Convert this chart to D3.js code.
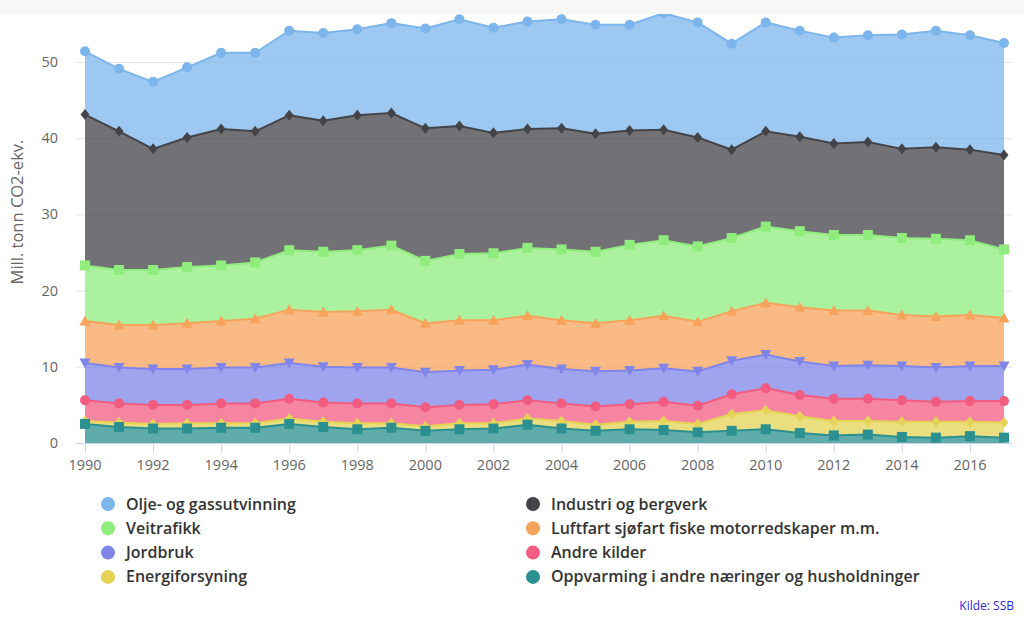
<!DOCTYPE html>
<html><head><meta charset="utf-8">
<script src="https://cdn.jsdelivr.net/npm/d3@7"></script>
<style>
body{margin:0;background:#fff;}
svg{display:block;font-family:"Open Sans",sans-serif;}
</style></head>
<body><div id="chart"></div>
<script>
const years = d3.range(1990, 2018);
const tickYears = [1990,1992,1994,1996,1998,2000,2002,2004,2006,2008,2010,2012,2014,2016];
const yTicks = [0,10,20,30,40,50];

// series values (Mill. tonn CO2-ekv.), listed top of stack first
const olje = [8.3,8.2,8.8,9.2,10.0,10.3,11.1,11.5,11.3,11.8,13.1,14.0,13.8,14.1,14.3,14.3,13.9,15.3,15.1,13.9,14.3,13.9,13.9,14.0,15.0,15.3,15.0,14.7];
const industri = [19.8,18.2,15.9,17.0,17.9,17.2,17.7,17.2,17.7,17.4,17.4,16.8,15.8,15.6,15.9,15.5,15.0,14.5,14.3,11.6,12.5,12.4,12.0,12.2,11.7,12.0,11.9,12.4];
const veitrafikk = [7.3,7.2,7.2,7.4,7.3,7.4,7.8,7.9,8.0,8.4,8.2,8.7,8.8,8.9,9.3,9.4,9.9,9.9,9.9,9.6,10.0,10.0,9.9,9.9,10.1,10.2,9.8,9.0];
const luftfart = [5.5,5.6,5.8,6.0,6.1,6.4,7.0,7.2,7.4,7.6,6.4,6.6,6.5,6.4,6.4,6.3,6.6,6.9,6.5,6.5,6.8,7.1,7.3,7.2,6.7,6.7,6.7,6.3];
const jordbruk = [4.9,4.7,4.7,4.7,4.7,4.7,4.7,4.7,4.7,4.7,4.6,4.5,4.5,4.7,4.5,4.6,4.4,4.4,4.5,4.4,4.4,4.4,4.3,4.4,4.5,4.5,4.6,4.6];
const andre = [2.7,2.5,2.5,2.4,2.6,2.6,2.6,2.5,2.6,2.6,2.5,2.4,2.5,2.4,2.3,2.4,2.3,2.5,2.4,2.6,2.9,2.8,2.9,2.9,2.8,2.6,2.7,2.8];
const energi = [0.4,0.6,0.6,0.7,0.6,0.6,0.7,0.7,0.8,0.6,0.6,0.8,0.7,0.8,1.0,0.8,1.0,1.2,1.1,2.2,2.5,2.2,1.9,1.8,2.0,2.1,1.9,2.0];
const oppvarming = [2.5,2.1,1.9,1.9,2.0,2.0,2.5,2.1,1.8,2.0,1.6,1.8,1.9,2.4,1.9,1.6,1.8,1.7,1.4,1.6,1.8,1.3,1.0,1.1,0.8,0.7,0.9,0.7];

const seriesNames = ["Olje- og gassutvinning","Industri og bergverk","Veitrafikk","Luftfart sjøfart fiske motorredskaper m.m.","Jordbruk","Andre kilder","Energiforsyning","Oppvarming i andre næringer og husholdninger"];
const seriesValues = [olje, industri, veitrafikk, luftfart, jordbruk, andre, energi, oppvarming];
const colors = ["#7cb5ec","#434348","#90ed7d","#f7a35c","#8085e9","#f15c80","#e4d354","#2b908f"];
const symbolKinds = ["circle","diamond","square","triangle","tdown","circle","diamond","square"];

const W = 1024, H = 624;
const svg = d3.select("#chart").append("svg").attr("width", W).attr("height", H);
svg.append("rect").attr("x",0).attr("y",0).attr("width",W).attr("height",14).attr("fill","#f7f7f7");

const plot = {left:76, right:1012, top:14, bottom:443};
const x = d3.scaleLinear().domain([1990,2017]).range([85,1004]);
const y = d3.scaleLinear().domain([0,50]).range([443,62]);

// gridlines
svg.append("g").selectAll("line").data(yTicks).join("line")
  .attr("x1",plot.left).attr("x2",plot.right)
  .attr("y1",d=>y(d)+0.5).attr("y2",d=>y(d)+0.5)
  .attr("stroke","#e6e6e6").attr("stroke-width",1);

// stack
const table = years.map((yr,i)=>{const o={year:yr}; seriesNames.forEach((n,k)=>o[n]=seriesValues[k][i]); return o;});
const stack = d3.stack().keys(seriesNames.slice().reverse());
const layers = stack(table);
const layerByName = {}; layers.forEach(l=>layerByName[l.key]=l);

svg.append("clipPath").attr("id","clip").append("rect")
  .attr("x",plot.left).attr("y",plot.top).attr("width",plot.right-plot.left).attr("height",plot.bottom-plot.top+8);

const g = svg.append("g").attr("clip-path","url(#clip)");
const area = d3.area().x(d=>x(d.data.year)).y0(d=>y(d[0])).y1(d=>y(d[1]));
const line = d3.line().x(d=>x(d.data.year)).y(d=>y(d[1]));

function markerPath(kind){
  const p = d3.path();
  if(kind==="circle"){ p.arc(0,0,5,0,2*Math.PI); }
  else if(kind==="diamond"){ p.moveTo(0,-5.5); p.lineTo(4.5,0); p.lineTo(0,5.5); p.lineTo(-4.5,0); p.closePath(); }
  else if(kind==="square"){ p.rect(-5,-5,10,10); }
  else if(kind==="triangle"){ p.moveTo(0,-5.5); p.lineTo(5.5,4.5); p.lineTo(-5.5,4.5); p.closePath(); }
  else { p.moveTo(-5.5,-4.5); p.lineTo(5.5,-4.5); p.lineTo(0,5.5); p.closePath(); }
  return p.toString();
}

seriesNames.forEach((name,k)=>{
  g.append("path").datum(layerByName[name]).attr("d",area).attr("fill",colors[k]).attr("fill-opacity",0.75);
});
seriesNames.forEach((name,k)=>{
  const l = layerByName[name];
  const sg = g.append("g");
  sg.append("path").datum(l).attr("d",line).attr("fill","none").attr("stroke",colors[k]).attr("stroke-width",2);
  const mp = markerPath(symbolKinds[k]);
  sg.selectAll("path.m").data(l).join("path").attr("class","m")
    .attr("transform",d=>`translate(${x(d.data.year)},${y(d[1])})`)
    .attr("d",mp).attr("fill",colors[k]);
});

// x axis
svg.append("line").attr("x1",plot.left).attr("x2",plot.right).attr("y1",443.5).attr("y2",443.5).attr("stroke","#ccd6eb");
svg.append("g").selectAll("line").data(tickYears).join("line")
  .attr("x1",d=>x(d)+0.5).attr("x2",d=>x(d)+0.5).attr("y1",443).attr("y2",453).attr("stroke","#ccd6eb");
svg.append("g").selectAll("text").data(tickYears).join("text")
  .attr("x",d=>x(d)).attr("y",470).attr("text-anchor","middle")
  .attr("font-size",14.5).attr("fill","#666").text(d=>d);

// y axis labels
svg.append("g").selectAll("text").data(yTicks).join("text")
  .attr("x",58).attr("y",d=>y(d)+5).attr("text-anchor","end")
  .attr("font-size",14.5).attr("fill","#666").text(d=>d);
svg.append("text").attr("transform","translate(23,212) rotate(-90)").attr("text-anchor","middle")
  .attr("font-size",16.5).attr("fill","#666").text("Mill. tonn CO2-ekv.");

// legend
const lg = svg.append("g");
seriesNames.forEach((name,k)=>{
  const col = k%2, row = Math.floor(k/2);
  const cx = col===0?108:533, cy = 504 + row*24.3;
  lg.append("circle").attr("cx",cx).attr("cy",cy).attr("r",7).attr("fill",colors[k]);
  lg.append("text").attr("x",cx+18).attr("y",cy+5.5).attr("font-size",16).attr("font-weight",600)
    .attr("fill","#333").text(name);
});

svg.append("text").attr("x",1014).attr("y",610).attr("text-anchor","end").attr("font-size",12)
  .attr("fill","#2a2ae0").text("Kilde: SSB");
</script></body></html>
